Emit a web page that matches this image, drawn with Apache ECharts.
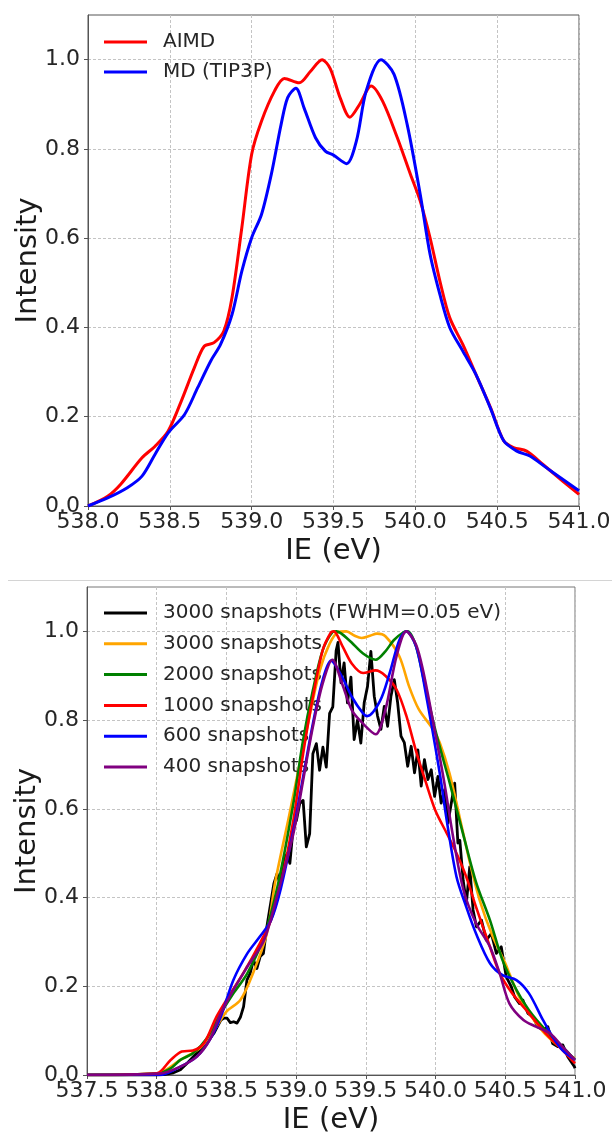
<!DOCTYPE html>
<html>
<head>
<meta charset="utf-8">
<script src="https://cdn.jsdelivr.net/npm/echarts@6/dist/echarts.min.js"></script>
<style>
html,body{margin:0;padding:0;background:#fff;}
#chart{width:612px;height:1136px;}
</style>
</head>
<body>
<div id="chart"></div>
<script>
// ---- Data (IE in eV, intensity) ----
const topXTicks = [538.0, 538.5, 539.0, 539.5, 540.0, 540.5, 541.0];
const botXTicks = [537.5, 538.0, 538.5, 539.0, 539.5, 540.0, 540.5, 541.0];
const yTicks = [0.0, 0.2, 0.4, 0.6, 0.8, 1.0];

const topNames = ['AIMD', 'MD (TIP3P)'];
const botNames = ['3000 snapshots (FWHM=0.05 eV)', '3000 snapshots', '2000 snapshots', '1000 snapshots', '600 snapshots', '400 snapshots'];

const aimd = [[538.0,0.0],[538.12,0.022],[538.2,0.049],[538.33,0.108],[538.41,0.134],[538.49,0.168],[538.57,0.235],[538.65,0.31],[538.71,0.358],[538.77,0.366],[538.83,0.392],[538.88,0.467],[538.94,0.624],[539.0,0.788],[539.06,0.862],[539.14,0.930],[539.2,0.958],[539.29,0.948],[539.36,0.974],[539.43,1.0],[539.48,0.98],[539.54,0.915],[539.6,0.871],[539.66,0.90],[539.73,0.941],[539.8,0.907],[539.89,0.825],[539.97,0.743],[540.03,0.683],[540.09,0.601],[540.15,0.504],[540.21,0.422],[540.29,0.362],[540.37,0.295],[540.46,0.220],[540.54,0.146],[540.6,0.131],[540.68,0.123],[540.78,0.093],[540.9,0.056],[541.0,0.026]];

const mdTip3p = [[538.0,0.0],[538.12,0.018],[538.24,0.041],[538.33,0.067],[538.41,0.116],[538.49,0.164],[538.59,0.205],[538.67,0.265],[538.75,0.325],[538.81,0.362],[538.88,0.429],[538.94,0.526],[539.0,0.601],[539.06,0.653],[539.12,0.743],[539.18,0.855],[539.22,0.915],[539.27,0.936],[539.32,0.892],[539.39,0.825],[539.45,0.795],[539.5,0.786],[539.58,0.767],[539.64,0.818],[539.7,0.930],[539.79,1.0],[539.87,0.967],[539.95,0.855],[540.03,0.698],[540.09,0.564],[540.15,0.474],[540.21,0.40],[540.29,0.347],[540.37,0.295],[540.46,0.218],[540.54,0.146],[540.62,0.123],[540.7,0.112],[540.8,0.086],[540.9,0.060],[541.0,0.034]];

const snap3000fwhm = [[537.5,0],[538.0,0.0],[538.05,0.001],[538.12,0.005],[538.17,0.012],[538.22,0.027],[538.31,0.057],[538.36,0.072],[538.41,0.094],[538.46,0.124],[538.48,0.128],[538.505,0.128],[538.528,0.118],[538.552,0.12],[538.576,0.117],[538.6,0.13],[538.623,0.154],[538.647,0.214],[538.67,0.229],[538.694,0.259],[538.718,0.24],[538.742,0.267],[538.765,0.274],[538.79,0.334],[538.813,0.379],[538.84,0.431],[538.863,0.454],[538.884,0.432],[538.91,0.484],[538.935,0.499],[538.955,0.477],[538.979,0.559],[539.002,0.574],[539.026,0.612],[539.05,0.619],[539.073,0.514],[539.097,0.544],[539.12,0.724],[539.145,0.747],[539.168,0.687],[539.192,0.739],[539.216,0.694],[539.24,0.815],[539.263,0.83],[539.287,0.957],[539.30,0.975],[539.322,0.884],[539.344,0.929],[539.368,0.839],[539.393,0.897],[539.416,0.756],[539.44,0.80],[539.464,0.748],[539.488,0.839],[539.512,0.876],[539.536,0.955],[539.56,0.854],[539.584,0.809],[539.608,0.779],[539.632,0.831],[539.656,0.786],[539.68,0.854],[539.704,0.891],[539.728,0.839],[539.752,0.764],[539.776,0.749],[539.80,0.696],[539.825,0.741],[539.849,0.681],[539.873,0.733],[539.897,0.651],[539.92,0.711],[539.945,0.666],[539.969,0.688],[539.993,0.628],[540.017,0.673],[540.04,0.613],[540.065,0.643],[540.089,0.568],[540.113,0.613],[540.137,0.658],[540.16,0.523],[540.174,0.529],[540.198,0.439],[540.221,0.387],[540.245,0.469],[540.269,0.372],[540.293,0.334],[540.329,0.349],[540.364,0.304],[540.40,0.319],[540.436,0.274],[540.471,0.289],[540.507,0.221],[540.543,0.199],[540.567,0.176],[540.602,0.161],[540.626,0.169],[540.662,0.139],[540.698,0.131],[540.733,0.109],[540.769,0.101],[540.805,0.109],[540.84,0.071],[540.876,0.064],[540.912,0.068],[540.948,0.041],[540.995,0.019],[541.0,0.015]];

const snap3000 = [[537.5,0],[538.0,0.003],[538.17,0.034],[538.31,0.061],[538.41,0.10],[538.5,0.143],[538.6,0.169],[538.69,0.229],[538.79,0.319],[538.85,0.435],[538.95,0.585],[539.03,0.709],[539.1,0.815],[539.17,0.912],[539.24,0.972],[539.3,0.998],[539.36,1.0],[539.42,0.99],[539.47,0.985],[539.53,0.99],[539.58,0.995],[539.64,0.989],[539.74,0.944],[539.81,0.876],[539.88,0.824],[539.98,0.78],[540.03,0.749],[540.1,0.68],[540.17,0.585],[540.245,0.48],[540.32,0.39],[540.41,0.312],[540.5,0.252],[540.53,0.228],[540.6,0.176],[540.67,0.139],[540.77,0.098],[540.86,0.071],[540.98,0.041],[541.0,0.038]];

const snap2000 = [[537.5,0],[538.0,0.003],[538.1,0.015],[538.17,0.034],[538.26,0.049],[538.36,0.083],[538.46,0.139],[538.55,0.184],[538.65,0.229],[538.77,0.312],[538.87,0.43],[538.98,0.612],[539.05,0.755],[539.12,0.867],[539.19,0.957],[539.26,0.998],[539.29,1.0],[539.38,0.98],[539.48,0.95],[539.57,0.936],[539.64,0.955],[539.7,0.98],[539.77,0.998],[539.8,1.0],[539.86,0.966],[539.92,0.884],[540.0,0.775],[540.1,0.66],[540.2,0.54],[540.29,0.435],[540.39,0.349],[540.48,0.259],[540.58,0.192],[540.67,0.146],[540.79,0.101],[540.91,0.064],[541.0,0.034]];

const snap1000 = [[537.5,0],[538.0,0.004],[538.1,0.034],[538.18,0.053],[538.26,0.055],[538.34,0.072],[538.43,0.132],[538.53,0.184],[538.62,0.229],[538.74,0.297],[538.82,0.349],[538.89,0.43],[538.98,0.574],[539.05,0.724],[539.12,0.852],[539.19,0.957],[539.25,0.998],[539.27,1.0],[539.33,0.968],[539.4,0.927],[539.48,0.906],[539.57,0.912],[539.64,0.9],[539.72,0.869],[539.79,0.81],[539.86,0.73],[539.93,0.66],[540.0,0.595],[540.08,0.545],[540.15,0.5],[540.22,0.447],[540.29,0.379],[540.39,0.289],[540.46,0.229],[540.55,0.184],[540.67,0.139],[540.79,0.094],[540.91,0.056],[541.0,0.026]];

const snap600 = [[537.5,0],[538.02,0.0],[538.17,0.019],[538.29,0.042],[538.38,0.079],[538.46,0.132],[538.55,0.214],[538.65,0.274],[538.74,0.312],[538.82,0.349],[538.89,0.42],[538.98,0.552],[539.05,0.672],[539.12,0.792],[539.19,0.89],[539.25,0.934],[539.33,0.897],[539.4,0.852],[539.48,0.815],[539.51,0.809],[539.6,0.842],[539.67,0.905],[539.74,0.98],[539.79,1.0],[539.86,0.966],[539.93,0.86],[540.03,0.68],[540.08,0.574],[540.15,0.447],[540.22,0.379],[540.29,0.319],[540.39,0.252],[540.48,0.225],[540.58,0.214],[540.67,0.184],[540.77,0.124],[540.84,0.086],[540.91,0.056],[541.0,0.034]];

const snap400 = [[537.5,0],[538.02,0.003],[538.17,0.019],[538.29,0.042],[538.38,0.079],[538.46,0.139],[538.55,0.192],[538.65,0.244],[538.77,0.304],[538.86,0.40],[538.98,0.544],[539.05,0.664],[539.12,0.785],[539.19,0.882],[539.26,0.936],[539.33,0.882],[539.4,0.822],[539.48,0.792],[539.57,0.768],[539.64,0.823],[539.72,0.944],[539.79,1.0],[539.86,0.97],[539.91,0.912],[539.98,0.8],[540.06,0.664],[540.13,0.529],[540.2,0.417],[540.29,0.342],[540.39,0.289],[540.46,0.229],[540.53,0.161],[540.63,0.124],[540.72,0.109],[540.82,0.094],[540.91,0.064],[541.0,0.034]];

// ---- Chart ----
const FONT = 'DejaVu Sans';
const chart = echarts.init(document.getElementById('chart'), null, {renderer: 'canvas'});

function xAx(gridIndex, min, ticks) {
  return {
    type: 'value', gridIndex, min, max: 541, interval: 0.5,
    name: 'IE (eV)', nameLocation: 'middle', nameGap: 31, nameMoveOverlap: false,
    nameTextStyle: {fontFamily: FONT, fontSize: 29, color: '#1a1a1a'},
    axisLine: {show: true, onZero: false, lineStyle: {color: '#555', width: 1}},
    axisTick: {show: true, length: 4, lineStyle: {color: '#555'}, customValues: ticks},
    axisLabel: {margin: 5, fontFamily: FONT, fontSize: 22, color: '#262626', customValues: ticks,
      formatter: v => v.toFixed(1)},
    splitLine: {show: true, lineStyle: {color: '#c4c4c4', type: [3, 2], width: 1}}
  };
}
function yAx(gridIndex) {
  return {
    type: 'value', gridIndex, min: 0, max: 1.1, interval: 0.2,
    name: 'Intensity', nameLocation: 'middle', nameGap: 45, nameRotate: 90, nameMoveOverlap: false,
    nameTextStyle: {fontFamily: FONT, fontSize: 29, color: '#1a1a1a'},
    axisLine: {show: true, lineStyle: {color: '#555', width: 1}},
    axisTick: {show: true, length: 4, lineStyle: {color: '#555'}, customValues: yTicks},
    axisLabel: {margin: 8, fontFamily: FONT, fontSize: 22, color: '#262626', customValues: yTicks,
      formatter: v => v.toFixed(1)},
    splitLine: {show: true, lineStyle: {color: '#c4c4c4', type: [3, 2], width: 1}}
  };
}
function line(name, data, color, xi, w, smooth) {
  return {
    type: 'line', name, data, xAxisIndex: xi, yAxisIndex: xi,
    showSymbol: false, symbol: 'none', smooth: smooth, z: 3,
    lineStyle: {color, width: w, join: 'round'}, itemStyle: {color}
  };
}

const option = {
  animation: false,
  backgroundColor: '#fff',
  grid: [
    {left: 88, top: 15, width: 491, height: 491, containLabel: false, outerBoundsMode: 'none',
      show: true, borderColor: '#555', borderWidth: 1, backgroundColor: 'transparent'},
    {left: 87, top: 587, width: 488, height: 488, containLabel: false, outerBoundsMode: 'none',
      show: true, borderColor: '#777', borderWidth: 1, backgroundColor: 'transparent'}
  ],
  xAxis: [xAx(0, 538, topXTicks), xAx(1, 537.5, botXTicks)],
  yAxis: [yAx(0), yAx(1)],
  legend: [
    {data: topNames, left: 104, top: 32, orient: 'vertical', padding: 0, itemGap: 10, z: 1,
      itemWidth: 43, itemHeight: 3, icon: 'rect',
      textStyle: {fontFamily: FONT, fontSize: 20, color: '#262626', padding: [0, 0, 0, 11]}},
    {data: botNames, left: 104, top: 603, orient: 'vertical', padding: 0, itemGap: 10.8, z: 1,
      itemWidth: 43, itemHeight: 3, icon: 'rect',
      textStyle: {fontFamily: FONT, fontSize: 20, color: '#262626', padding: [0, 0, 0, 11]}}
  ],
  graphic: [
    {type: 'line', shape: {x1: 8, y1: 580.5, x2: 612, y2: 580.5}, style: {stroke: '#d4d4d4', lineWidth: 1}}
  ],
  series: [
    line(topNames[0], aimd, '#ff0000', 0, 3, 0.3),
    line(topNames[1], mdTip3p, '#0000ff', 0, 3, 0.3),
    line(botNames[0], snap3000fwhm, '#000000', 1, 2.8, false),
    line(botNames[1], snap3000, '#ffa500', 1, 2.6, 0.3),
    line(botNames[2], snap2000, '#008000', 1, 2.6, 0.3),
    line(botNames[3], snap1000, '#ff0000', 1, 2.6, 0.3),
    line(botNames[4], snap600, '#0000ff', 1, 2.6, 0.3),
    line(botNames[5], snap400, '#800080', 1, 2.6, 0.3)
  ]
};
chart.setOption(option);
</script>
</body>
</html>
